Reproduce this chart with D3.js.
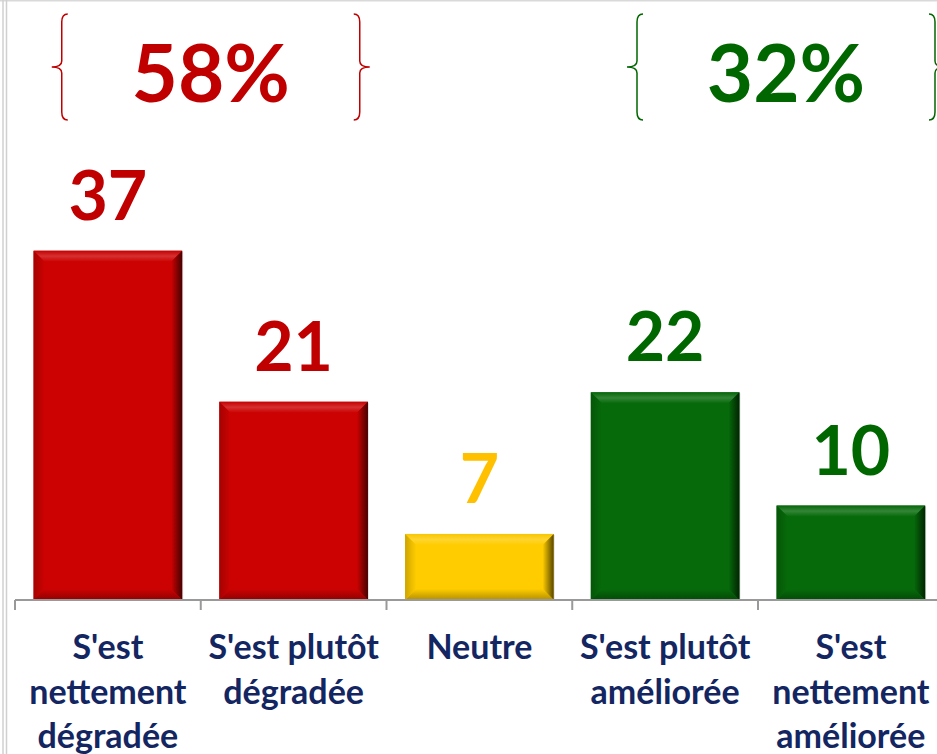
<!DOCTYPE html>
<html>
<head>
<meta charset="utf-8">
<script src="https://cdn.jsdelivr.net/npm/d3@7"></script>
<style>
  body { margin: 0; background: #fff; }
  #chart text { font-family: Lato, "Open Sans", sans-serif; font-weight: bold; }
</style>
</head>
<body>
<div id="chart"></div>
<script>
// Data
const categories = ['nd', 'pd', 'ne', 'pa', 'na'];
const categoryLabels = [
  ["S'est", 'nettement', 'dégradée'],
  ["S'est plutôt", 'dégradée'],
  ['Neutre'],
  ["S'est plutôt", 'améliorée'],
  ["S'est", 'nettement', 'améliorée']
];
const values = [37, 21, 7, 22, 10];
const barColors = ['#CC0202', '#CC0202', '#FFCC00', '#066A0A', '#066A0A'];
const labelColors = ['#C00000', '#C00000', '#FFC000', '#006600', '#006600'];
const groupLabels = ['58%', '32%'];
const groupSpans = [[0, 1], [3, 4]];
const groupColors = ['#C00000', '#006600'];

const width = 937, height = 754;
const baseY = 600;

const svg = d3.select('#chart').append('svg')
  .attr('width', width)
  .attr('height', height);

const defs = svg.append('defs');

// Scales
const x = d3.scaleBand()
  .domain(categories)
  .range([15, 943.75])
  .paddingInner(0.2)
  .paddingOuter(0.1);

const y = d3.scaleLinear()
  .domain([0, 40])
  .range([baseY, baseY - 40 * 9.44]);

// frame
svg.append('line').attr('x1', 0).attr('x2', width).attr('y1', 0.5).attr('y2', 0.5)
  .attr('stroke', '#d9d9d9').attr('stroke-width', 2);
svg.append('line').attr('x1', 3).attr('x2', 3).attr('y1', 0).attr('y2', height)
  .attr('stroke', '#d0d0d0').attr('stroke-width', 1.5);
svg.append('line').attr('x1', 6.5).attr('x2', 6.5).attr('y1', 0).attr('y2', height)
  .attr('stroke', '#d0d0d0').attr('stroke-width', 1.5);

// gradient helper
function grad(id, x2, y2, stops) {
  const g = defs.append('linearGradient').attr('id', id)
    .attr('x1', 0).attr('y1', 0).attr('x2', x2).attr('y2', y2);
  stops.forEach(s => g.append('stop').attr('offset', s[0]).attr('stop-color', s[1]));
}

// Bars with bevel
const bev = 11;
const bars = svg.append('g').selectAll('g')
  .data(values)
  .enter().append('g');

bars.each(function(v, i) {
  const g = d3.select(this);
  const x0 = x(categories[i]), w = x.bandwidth();
  const y0 = y(v), h = baseY - y(v);
  const c = d3.color(barColors[i]);
  const light = d3.interpolateRgb(c, '#ffffff');
  grad('top' + i, 0, 1, [[0, c.darker(0.1)], [0.5, light(0.18)], [1, c]]);
  grad('right' + i, 1, 0, [[0, c], [1, c.darker(3)]]);
  grad('left' + i, 1, 0, [[0, c.darker(0.6)], [1, c]]);
  grad('bot' + i, 0, 1, [[0, c], [1, c.darker(1)]]);

  g.append('rect')
    .attr('x', x0 + 1).attr('y', y0 + 1).attr('width', w).attr('height', h - 1)
    .attr('fill', '#000').attr('opacity', 0.12);
  g.append('rect')
    .attr('x', x0).attr('y', y0).attr('width', w).attr('height', h)
    .attr('fill', c);
  g.append('path')
    .attr('d', `M${x0},${y0}L${x0 + w},${y0}L${x0 + w - bev},${y0 + bev}L${x0 + bev},${y0 + bev}Z`)
    .attr('fill', `url(#top${i})`);
  g.append('path')
    .attr('d', `M${x0},${y0}L${x0 + bev},${y0 + bev}L${x0 + bev},${y0 + h - bev}L${x0},${y0 + h}Z`)
    .attr('fill', `url(#left${i})`);
  g.append('path')
    .attr('d', `M${x0 + w},${y0}L${x0 + w},${y0 + h}L${x0 + w - bev},${y0 + h - bev}L${x0 + w - bev},${y0 + bev}Z`)
    .attr('fill', `url(#right${i})`);
  g.append('path')
    .attr('d', `M${x0},${y0 + h}L${x0 + w},${y0 + h}L${x0 + w - bev},${y0 + h - bev}L${x0 + bev},${y0 + h - bev}Z`)
    .attr('fill', `url(#bot${i})`);
});

// Value labels
svg.append('g').selectAll('text')
  .data(values)
  .enter().append('text')
    .attr('x', (d, i) => x(categories[i]) + x.bandwidth() / 2)
    .attr('y', d => y(d) - 31)
    .attr('text-anchor', 'middle')
    .attr('font-size', 68)
    .attr('fill', (d, i) => labelColors[i])
    .text(d => d);

// X axis
const step = x.step();
const bounds = d3.range(categories.length + 1).map(i => x.range()[0] + i * step);
const axis = svg.append('g').attr('stroke', '#999').attr('stroke-width', 2);
axis.append('line').attr('x1', bounds[0]).attr('x2', width).attr('y1', baseY).attr('y2', baseY);
axis.selectAll('.tick').data(bounds).enter().append('line')
  .attr('x1', d => d).attr('x2', d => d)
  .attr('y1', baseY).attr('y2', baseY + 10);

// Category labels
svg.append('g').selectAll('text')
  .data(categoryLabels)
  .enter().append('text')
    .attr('x', (d, i) => x(categories[i]) + x.bandwidth() / 2)
    .attr('y', 659)
    .attr('text-anchor', 'middle')
    .attr('font-size', 34)
    .attr('fill', '#132661')
    .selectAll('tspan')
    .data(d => d)
    .enter().append('tspan')
      .attr('x', function() { return d3.select(this.parentNode).attr('x'); })
      .attr('dy', (d, j) => j === 0 ? 0 : 44.5)
      .text(d => d);

// Group braces and totals
function brace(xTip, dir, top, bottom) {
  const mid = (top + bottom) / 2;
  const xl = xTip + dir * 10; // spine
  const xe = xl + dir * 6;    // ends
  return `M${xe},${top} Q${xl},${top} ${xl},${top + 8} L${xl},${mid - 6} Q${xl},${mid} ${xTip},${mid}` +
    ` Q${xl},${mid} ${xl},${mid + 6} L${xl},${bottom - 8} Q${xl},${bottom} ${xe},${bottom}`;
}
const groupOffsets = [10, 28];
groupSpans.forEach((span, k) => {
  const cx = (x(categories[span[0]]) + x(categories[span[1]]) + x.bandwidth()) / 2 + groupOffsets[k];
  const g = svg.append('g');
  g.append('path').attr('d', brace(cx - 159, 1, 14, 120))
    .attr('fill', 'none').attr('stroke', groupColors[k]).attr('stroke-width', 1.5);
  g.append('path').attr('d', brace(cx + 159, -1, 14, 120))
    .attr('fill', 'none').attr('stroke', groupColors[k]).attr('stroke-width', 1.5);
  g.append('text')
    .attr('x', cx).attr('y', 102)
    .attr('text-anchor', 'middle')
    .attr('font-size', 80)
    .attr('fill', groupColors[k])
    .text(groupLabels[k]);
});
</script>
</body>
</html>
